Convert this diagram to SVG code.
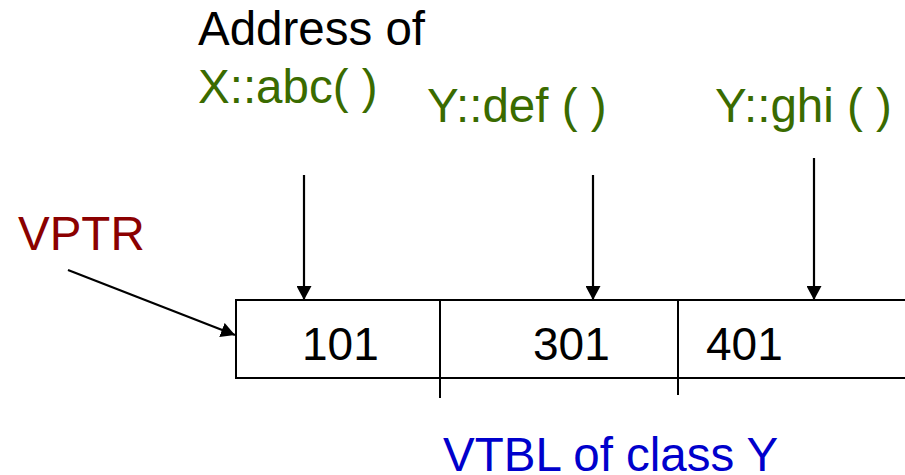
<svg xmlns="http://www.w3.org/2000/svg" width="905" height="475" viewBox="0 0 905 475">
  <style>
    .lbl { font-family: "Liberation Sans", Arial, sans-serif; font-size: 47.5px; }
    .fn { fill: #3a6b00; }
    .num { font-family: "Liberation Sans", Arial, sans-serif; font-size: 46px; fill: #000; }
    .cell { fill: none; stroke: #000; stroke-width: 2; }
    .conn { stroke: #000; stroke-width: 2.2; fill: none; marker-end: url(#ah); }
  </style>
  <defs>
    <marker id="ah" viewBox="0 0 14 15" refX="14" refY="7.5" markerWidth="14" markerHeight="15" markerUnits="userSpaceOnUse" orient="auto">
      <path d="M0,0 L14,7.5 L0,15 z" fill="#000"/>
    </marker>
  </defs>

  <g id="title">
    <text class="lbl" x="198" y="45" fill="#000">Address of</text>
  </g>
  <g id="fn-abc"><text class="lbl fn" x="198" y="103">X::abc( )</text></g>
  <g id="fn-def"><text class="lbl fn" x="427" y="122">Y::def ( )</text></g>
  <g id="fn-ghi"><text class="lbl fn" x="715" y="122">Y::ghi ( )</text></g>
  <g id="vptr"><text class="lbl" x="18" y="250" fill="#8b0000">VPTR</text></g>

  <g id="vtbl">
    <path class="cell" d="M906,300 H236 V378 H906"/>
    <line class="cell" x1="440" y1="300" x2="440" y2="398"/>
    <line class="cell" x1="678" y1="300" x2="678" y2="395"/>
    <text class="num" x="302" y="360">101</text>
    <text class="num" x="533" y="360">301</text>
    <text class="num" x="706" y="360">401</text>
  </g>
  <g id="vtbl-caption"><text class="lbl" x="443" y="471" fill="#0000cc">VTBL of class Y</text></g>

  <g id="connectors">
    <line class="conn" x1="304" y1="175" x2="304" y2="300"/>
    <line class="conn" x1="593" y1="175" x2="593" y2="300"/>
    <line class="conn" x1="814" y1="158" x2="814" y2="300"/>
    <line class="conn" x1="68" y1="270" x2="235" y2="335"/>
  </g>
</svg>
